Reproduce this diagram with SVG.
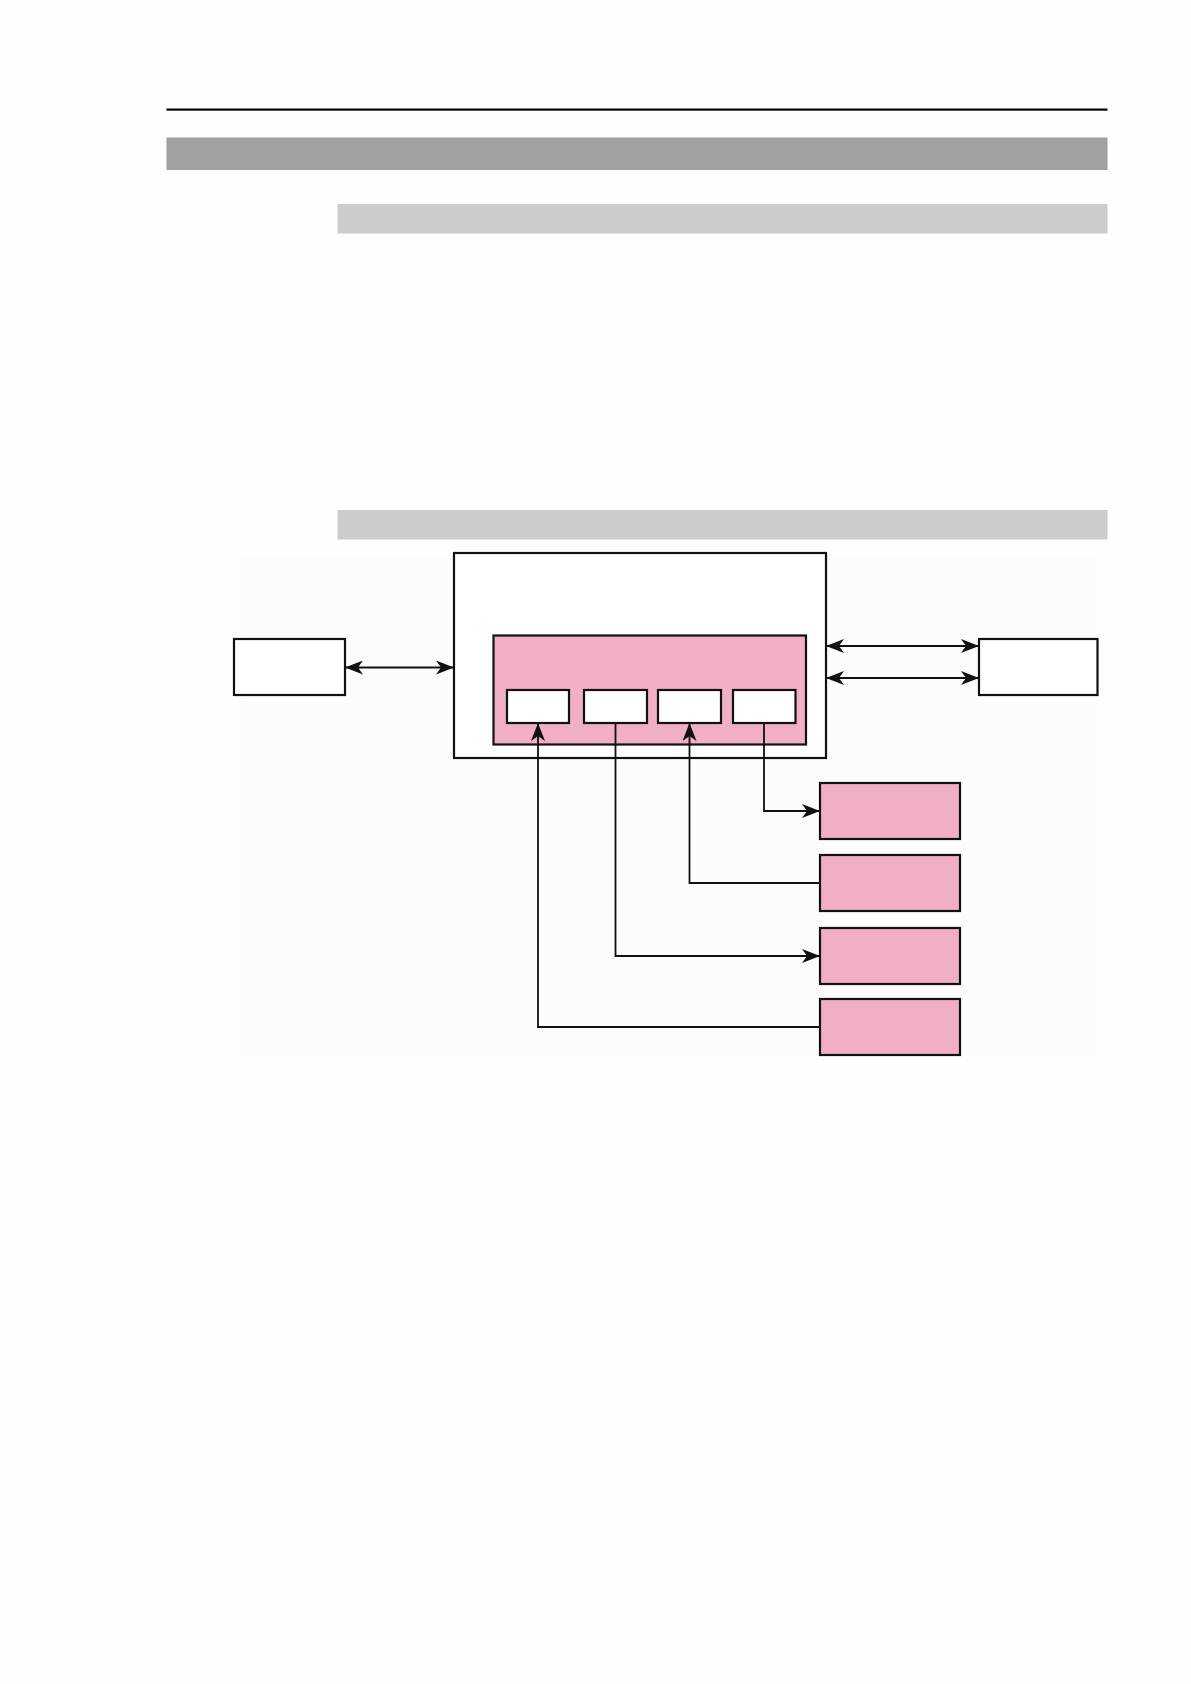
<svg xmlns="http://www.w3.org/2000/svg" width="1191" height="1684" viewBox="0 0 1191 1684">
<style>
.box{fill:#ffffff;stroke:#111;stroke-width:2.2}
.pink{fill:#f1afc6;stroke:#111;stroke-width:2.2}
.conn{fill:none;stroke:#111;stroke-width:1.8}
</style>
<defs>
<marker id="ah" viewBox="0 0 18 14" refX="18" refY="7" markerWidth="18" markerHeight="14" markerUnits="userSpaceOnUse" orient="auto-start-reverse">
<path d="M0,0 L18,7 L0,14 L5,7 z" fill="#111"/>
</marker>
</defs>
<rect x="0" y="0" width="1191" height="1684" fill="#fefefe"/>
<g id="page-header">
<rect x="166.5" y="108.5" width="941" height="2.2" fill="#000"/>
<rect x="166.5" y="137.5" width="941" height="32.5" fill="#a0a0a0"/>
<rect x="337.5" y="204" width="770" height="29.5" fill="#cccccc"/>
<rect x="337.5" y="510" width="770" height="29.5" fill="#cccccc"/>
</g>
<rect id="diagram-bg" x="241" y="555" width="855" height="501" fill="#fcfcfc"/>
<g id="node-left"><rect class="box" x="234" y="639" width="111" height="56"/></g>
<g id="node-right"><rect class="box" x="979" y="639" width="118.5" height="56"/></g>
<g id="node-main"><rect class="box" x="454" y="553" width="372" height="205"/></g>
<g id="node-inner"><rect class="pink" x="493.5" y="635.5" width="312.5" height="109"/></g>
<g id="node-s1"><rect class="box" x="507" y="690" width="62" height="33"/></g>
<g id="node-s2"><rect class="box" x="584" y="690" width="63" height="33"/></g>
<g id="node-s3"><rect class="box" x="658" y="690" width="63" height="33"/></g>
<g id="node-s4"><rect class="box" x="733" y="690" width="62.5" height="33"/></g>
<g id="node-p1"><rect class="pink" x="820" y="783" width="140" height="56"/></g>
<g id="node-p2"><rect class="pink" x="820" y="855" width="140" height="56"/></g>
<g id="node-p3"><rect class="pink" x="820" y="928" width="140" height="56"/></g>
<g id="node-p4"><rect class="pink" x="820" y="999" width="140" height="56"/></g>
<g id="connectors">
<line class="conn" x1="345" y1="667.5" x2="454" y2="667.5" marker-start="url(#ah)" marker-end="url(#ah)"/>
<line class="conn" x1="826" y1="646" x2="979" y2="646" marker-start="url(#ah)" marker-end="url(#ah)"/>
<line class="conn" x1="826" y1="678" x2="979" y2="678" marker-start="url(#ah)" marker-end="url(#ah)"/>
<polyline class="conn" points="764,723 764,811 820,811" marker-end="url(#ah)"/>
<polyline class="conn" points="820,883 689.5,883 689.5,723" marker-end="url(#ah)"/>
<polyline class="conn" points="615.5,723 615.5,956 820,956" marker-end="url(#ah)"/>
<polyline class="conn" points="820,1027 538,1027 538,723" marker-end="url(#ah)"/>
</g>
</svg>
